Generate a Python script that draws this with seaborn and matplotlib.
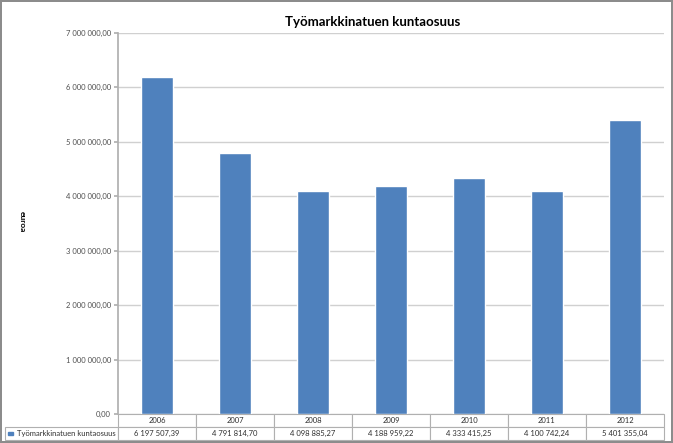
import matplotlib
matplotlib.use('Agg')
import matplotlib.pyplot as plt
import seaborn as sns
import pandas as pd
from matplotlib.patches import Rectangle
from matplotlib.ticker import FuncFormatter

years = ['2006', '2007', '2008', '2009', '2010', '2011', '2012']
values = [6197507.39, 4791814.70, 4098885.27, 4188959.22, 4333415.25, 4100742.24, 5401355.04]
series_name = 'Työmarkkinatuen kuntaosuus'
title = 'Työmarkkinatuen kuntaosuus'
y_label = 'euroa'

def fi_fmt(v):
    s = '{:,.2f}'.format(v)
    return s.replace(',', ' ').replace('.', ',')

sns.set_theme(style='white')
plt.rcParams['font.family'] = ['Lato', 'DejaVu Sans']

df = pd.DataFrame({'year': years, 'value': values})

W, H = 673, 443
fig = plt.figure(figsize=(W / 100, H / 100), dpi=100)
fig.patch.set_edgecolor('#8c8c8c')
fig.patch.set_linewidth(1.5)

l, r, t, b = 118, 664, 33, 414
ax = fig.add_axes([l / W, 1 - b / H, (r - l) / W, (b - t) / H])

sns.barplot(data=df, x='year', y='value', color='#4F81BD', saturation=1, width=0.41, ax=ax)

ax.set_ylim(0, 7000000)
ax.set_yticks(range(0, 7000001, 1000000))
ax.yaxis.set_major_formatter(FuncFormatter(lambda v, p: fi_fmt(v)))
ax.tick_params(axis='y', labelsize=5.5, colors='#505050', length=3, direction='out', left=True, color='#b0b0b0', pad=2)
ax.set_xticks([])
ax.set_xlabel('')
ax.set_ylabel('')
ax.grid(axis='y', color='#d0d0d0', linewidth=1)
ax.set_axisbelow(True)
for side in ['top', 'right', 'bottom']:
    ax.spines[side].set_visible(False)
ax.spines['left'].set_color('#b0b0b0')

fig.text(373 / W, 1 - 22 / H, title, ha='center', va='center',
         fontsize=9.5, fontweight='bold', color='black')
fig.text(22 / W, 1 - 222 / H, y_label, rotation=270, ha='center', va='center',
         fontsize=6, fontweight='bold', color='black')

# data table below the plot
row_h = 13 / (b - t)
lab_w = (l - 5) / (r - l)
cell_text = [[''] + years, [series_name] + [fi_fmt(v) for v in values]]
tab = ax.table(cellText=cell_text, cellLoc='center',
               colWidths=[lab_w] + [1 / 7] * 7,
               bbox=[-lab_w, -2 * row_h, 1 + lab_w, 2 * row_h])
tab.auto_set_font_size(False)
for (i, j), cell in tab.get_celld().items():
    cell.set_edgecolor('#b0b0b0')
    cell.set_linewidth(0.8)
    cell.get_text().set_fontsize(5.5)
    cell.get_text().set_color('#303030')
    if i == 0 and j == 0:
        cell.visible_edges = ''
    if i == 1 and j == 0:
        cell.get_text().set_ha('left')
        cell._loc = 'left'
        cell.get_text().set_text('     ' + series_name)
        cell.PAD = 0.02

ax.add_patch(Rectangle((-lab_w + 0.006, -2 * row_h + 0.42 * row_h), 0.008, 0.2 * row_h * 1.0,
                       transform=ax.transAxes, color='#4F81BD', clip_on=False))

fig.savefig('out.png', dpi=100)
